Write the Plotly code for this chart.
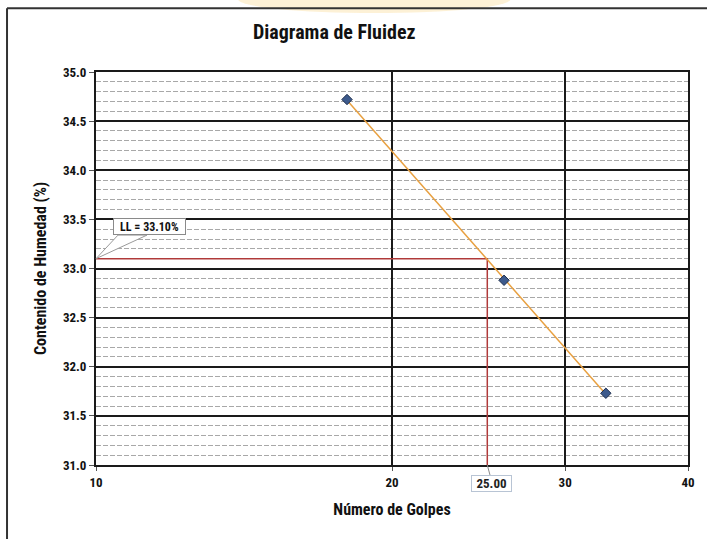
import numpy as np
import plotly.graph_objects as go

# ---- data ----
golpes = [18, 26, 33]                 # Número de Golpes
humedad = [34.72, 32.88, 31.73]       # Contenido de Humedad (%)
ll_golpes = 25
ll_value = 33.10
x_ticks = [10, 20, 30, 40]
y_ticks = [31.0, 31.5, 32.0, 32.5, 33.0, 33.5, 34.0, 34.5, 35.0]

FONT = "Liberation Sans Narrow, Roboto Condensed, Arial Narrow, DejaVu Sans Condensed, sans-serif"

# trend line (linear in log10 of golpes)
lx = np.log10(golpes)
b, a = np.polyfit(lx, humedad, 1)
tx = np.array([min(golpes), max(golpes)])
ty = a + b * np.log10(tx)

XMIN, XMAX = 10, 40
YMIN, YMAX = 31.0, 35.0
def xpaper(v):
    return (np.log10(v) - np.log10(XMIN)) / (np.log10(XMAX) - np.log10(XMIN))
def ypaper(v):
    return (v - YMIN) / (YMAX - YMIN)

fig = go.Figure()

# red LL guide lines
fig.add_trace(go.Scatter(
    x=[XMIN, ll_golpes, ll_golpes], y=[ll_value, ll_value, YMIN],
    mode="lines", line=dict(color="#b03a3a", width=1.5),
    hoverinfo="skip", showlegend=False, cliponaxis=False))

# trend line
fig.add_trace(go.Scatter(
    x=tx, y=ty, mode="lines", line=dict(color="#e8a040", width=1.5),
    hoverinfo="skip", showlegend=False))

# points
fig.add_trace(go.Scatter(
    x=golpes, y=humedad, mode="markers",
    marker=dict(symbol="diamond", size=8, color="#3d5a8c",
                line=dict(color="#1c2c4c", width=1)),
    showlegend=False))

tip_y = ypaper(ll_value)
FRAME_TOP = 1.1625
FRAME_LEFT = -0.1503
shapes = [
    # yellow glow (watermark remnant) at top
    dict(type="circle", xref="paper", yref="paper", x0=0.24, x1=0.70, y0=1.15, y1=1.22,
         fillcolor="rgba(250,210,120,0.30)", line=dict(width=0), layer="below"),
    # outer frame (top and left edges; others fall outside the picture)
    dict(type="line", xref="paper", yref="paper", x0=FRAME_LEFT, x1=1.1, y0=FRAME_TOP, y1=FRAME_TOP,
         line=dict(color="#333333", width=2)),
    dict(type="line", xref="paper", yref="paper", x0=FRAME_LEFT, x1=FRAME_LEFT, y0=-0.3, y1=FRAME_TOP,
         line=dict(color="#333333", width=2)),
    # wedge callout for LL
    dict(type="path", xref="paper", yref="paper",
         path=f"M 0 {tip_y} L 0.0372 0.585 L 0.0861 0.585 Z",
         fillcolor="white", line=dict(color="#9a9a9a", width=1), layer="above"),
    # connector for 25.00 label
    dict(type="line", xref="paper", yref="paper",
         x0=xpaper(ll_golpes), y0=0, x1=xpaper(ll_golpes) + 0.005, y1=-0.028,
         line=dict(color="#8a8a8a", width=1)),
]

annotations = [
    dict(text="<b>Diagrama de Fluidez</b>", xref="paper", yref="paper",
         x=(334 - 96) / 592, y=(465 - 32) / 393, xanchor="center", yanchor="middle",
         showarrow=False, font=dict(family=FONT, size=20, color="#111111")),
    dict(text=f"<b>LL = {ll_value:.2f}%</b>", xref="paper", yref="paper",
         x=0.0904, y=0.606, xanchor="center", yanchor="middle", showarrow=False,
         font=dict(family=FONT, size=12, color="#111111"),
         bgcolor="white", bordercolor="#8a8a8a", borderwidth=1, borderpad=1,
         width=69, height=13),
    dict(text=f"<b>{ll_golpes:.2f}</b>", xref="paper", yref="paper",
         x=xpaper(ll_golpes) + 0.0068, y=-0.048, xanchor="center", yanchor="middle",
         showarrow=False,
         font=dict(family=FONT, size=13, color="#222222"),
         bgcolor="white", bordercolor="#b8c4d4", borderwidth=1, borderpad=1,
         width=37, height=13),
]

fig.update_layout(
    width=707, height=539,
    margin=dict(l=96, r=19, t=72, b=74),
    paper_bgcolor="white", plot_bgcolor="white",
    font=dict(family=FONT, size=13, color="#111111"),
    shapes=shapes, annotations=annotations,
    xaxis=dict(
        type="log", range=[np.log10(XMIN), np.log10(XMAX)],
        tickvals=x_ticks, ticktext=[f"<b>{v}</b>" for v in x_ticks],
        showgrid=True, gridcolor="#1a1a1a", gridwidth=1.5,
        showline=True, linecolor="#1a1a1a", linewidth=2, mirror=True,
        ticks="outside", ticklen=4, tickcolor="#555555",
        zeroline=False, automargin=False,
        title=dict(text="<b>Número de Golpes</b>", font=dict(family=FONT, size=16), standoff=15),
    ),
    yaxis=dict(
        range=[YMIN, YMAX],
        tickvals=y_ticks, ticktext=[f"<b>{v:.1f}</b>" for v in y_ticks],
        showgrid=True, gridcolor="#1a1a1a", gridwidth=1.5,
        minor=dict(dtick=0.1, showgrid=True, gridcolor="#a8a8a8", griddash="5px,2px",
                   gridwidth=1, ticks=""),
        showline=True, linecolor="#1a1a1a", linewidth=2, mirror=True,
        ticks="outside", ticklen=5, tickcolor="#555555",
        zeroline=False, automargin=False,
        title=dict(text="<b>Contenido de Humedad (%)</b>", font=dict(family=FONT, size=16), standoff=12),
    ),
)

fig.write_html("out.html", config={"displayModeBar": False},
               post_script="document.body.style.margin='0px';")
